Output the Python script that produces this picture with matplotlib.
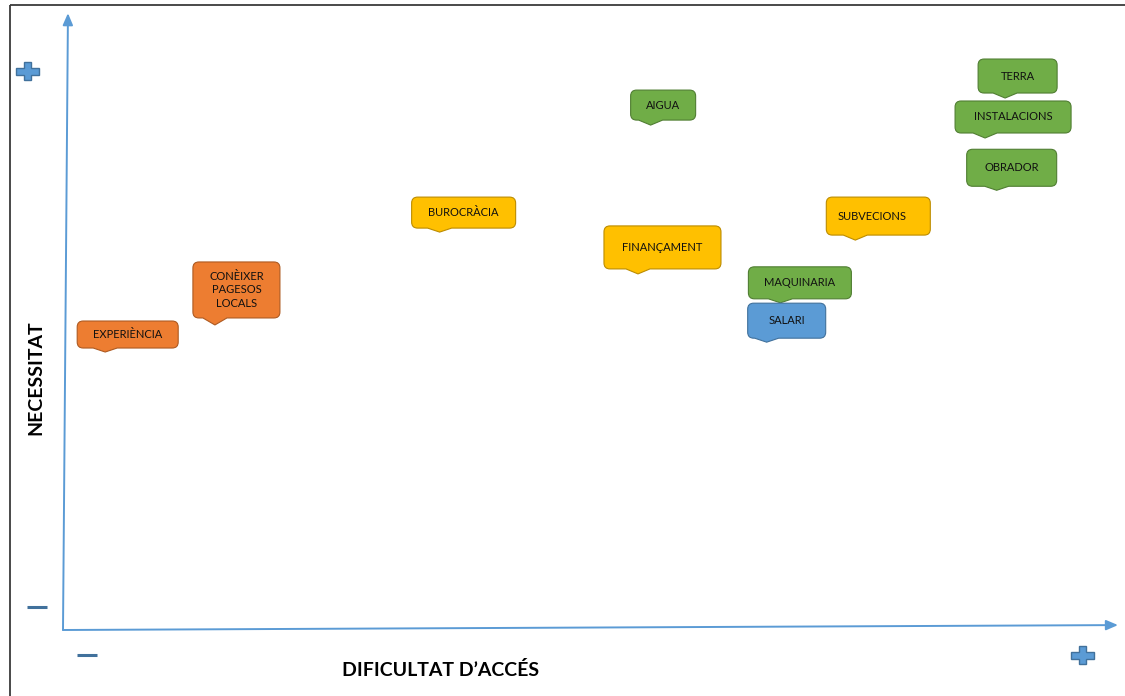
import matplotlib
matplotlib.use("Agg")
import matplotlib.pyplot as plt
from matplotlib.path import Path
from matplotlib.patches import PathPatch, Polygon
import matplotlib.transforms as mtransforms

# ---------------- data ----------------
labels = ["EXPERIÈNCIA", "CONÈIXER\nPAGESOS\nLOCALS", "BUROCRÀCIA", "FINANÇAMENT",
          "AIGUA", "SUBVECIONS", "MAQUINARIA", "SALARI", "TERRA", "INSTALACIONS", "OBRADOR"]
dificultat = [4.0, 14.4, 35.7, 54.5, 55.7, 75.1, 68.0, 66.7, 89.3, 87.4, 88.5]
necessitat = [45.2, 49.6, 64.7, 57.9, 82.1, 63.4, 53.2, 46.8, 86.5, 80.0, 71.5]
grup = ["persones", "persones", "finances", "finances", "recursos", "finances",
        "recursos", "treball", "recursos", "recursos", "recursos"]
x_label = "DIFICULTAT D’ACCÉS"
y_label = "NECESSITAT"

# ---------------- styles ----------------
fill = {"persones": "#ED7D31", "finances": "#FFC000", "recursos": "#70AD47", "treball": "#5B9BD5"}
edge = {"persones": "#AE5A21", "finances": "#BC8C00", "recursos": "#507E32", "treball": "#41719C"}
# callout box geometry in pixels relative to tip: left, right, gap, height
box_geom = [(-28, 73, 4, 27), (-22, 65, 7, 56), (-28, 76, 4, 31), (-34, 83, 5, 43),
            (-20, 45, 5, 30), (-29, 75, 5, 38), (-32, 71, 4, 32), (-19, 59, 4, 35),
            (-27, 52, 5, 34), (-30, 86, 5, 32), (-30, 60, 4, 37)]
text_dx = [0, 0, 0, 0, 0, -6, 0, 0, 0, 0, 0]

W, H = 1125, 696
fig = plt.figure(figsize=(W / 100, H / 100), dpi=100)
fig.patch.set_facecolor("white")

# overlay for decorations (pixel coords)
deco = fig.add_axes([0, 0, 1, 1])
deco.set_xlim(0, W)
deco.set_ylim(H, 0)
deco.axis("off")
deco.plot([10, 10], [5, H], color="#3a3a3a", lw=1.3, solid_capstyle="butt")
deco.plot([10, W], [5, 5], color="#3a3a3a", lw=1.3, solid_capstyle="butt")

def plus(cx, cy, w=23, h=18, t=7):
    a, b, c = w / 2, h / 2, t / 2
    pts = [(-c, -b), (c, -b), (c, -c), (a, -c), (a, c), (c, c), (c, b), (-c, b),
           (-c, c), (-a, c), (-a, -c), (-c, -c)]
    deco.add_patch(Polygon([(cx + px, cy + py) for px, py in pts], closed=True,
                           facecolor="#5B9BD5", edgecolor="#41719C", lw=1.0))

plus(27, 71)
plus(1082, 655)
deco.plot([27, 47], [607, 607], color="#41719C", lw=2.2, solid_capstyle="butt")
deco.plot([77, 97], [655, 655], color="#41719C", lw=2.2, solid_capstyle="butt")

deco.text(36, 378, y_label, rotation=90, ha="center", va="center",
          fontsize=14, fontweight="bold", family=["Lato", "DejaVu Sans"], color="black")
deco.text(441, 670, x_label, ha="center", va="center",
          fontsize=14, fontweight="bold", family=["Lato", "DejaVu Sans"], color="black")

# main quadrant axes
ax = fig.add_axes([63 / W, (H - 630) / H, 1055 / W, 615 / H])
ax.set_xlim(0, 100)
ax.set_ylim(0, 100)
ax.axis("off")
ax.patch.set_alpha(0)

axis_col = "#5B9BD5"
ax.annotate("", xy=(100, 0.8), xytext=(0, 0), xycoords="data",
            arrowprops=dict(arrowstyle="-|>,head_length=0.7,head_width=0.3", color=axis_col,
                            lw=1.4, shrinkA=0, shrinkB=0), annotation_clip=False)
ax.annotate("", xy=(0.47, 100.3), xytext=(0, 0), xycoords="data",
            arrowprops=dict(arrowstyle="-|>,head_length=0.7,head_width=0.3", color=axis_col,
                            lw=1.4, shrinkA=0, shrinkB=0), annotation_clip=False)


def callout_path(l, r, g, h, rad=6, tw=12):
    yb, yt = g, g + h
    verts = [(0, 0), (tw, yb), (r - rad, yb), (r, yb), (r, yb + rad), (r, yt - rad),
             (r, yt), (r - rad, yt), (l + rad, yt), (l, yt), (l, yt - rad),
             (l, yb + rad), (l, yb), (l + rad, yb), (-tw, yb), (0, 0)]
    codes = [Path.MOVETO, Path.LINETO, Path.LINETO, Path.CURVE3, Path.CURVE3, Path.LINETO,
             Path.CURVE3, Path.CURVE3, Path.LINETO, Path.CURVE3, Path.CURVE3,
             Path.LINETO, Path.CURVE3, Path.CURVE3, Path.LINETO, Path.CLOSEPOLY]
    return Path(verts, codes)


scale = fig.dpi / 100.0
for lab, x, y, g_, geo, dx in zip(labels, dificultat, necessitat, grup, box_geom, text_dx):
    l, r, gap, h = geo
    trans = mtransforms.Affine2D().scale(scale) + mtransforms.ScaledTranslation(x, y, ax.transData)
    patch = PathPatch(callout_path(l, r, gap, h), facecolor=fill[g_], edgecolor=edge[g_],
                      lw=0.8, transform=trans, clip_on=False)
    ax.add_patch(patch)
    ax.annotate(lab, xy=(x, y), xycoords="data",
                xytext=(((l + r) / 2 + dx) * 0.72, (gap + h / 2) * 0.72), textcoords="offset points",
                ha="center", va="center", fontsize=8, color="#111111",
                family=["Lato", "DejaVu Sans"], linespacing=1.3, annotation_clip=False)

fig.savefig("out.png", dpi=100)
